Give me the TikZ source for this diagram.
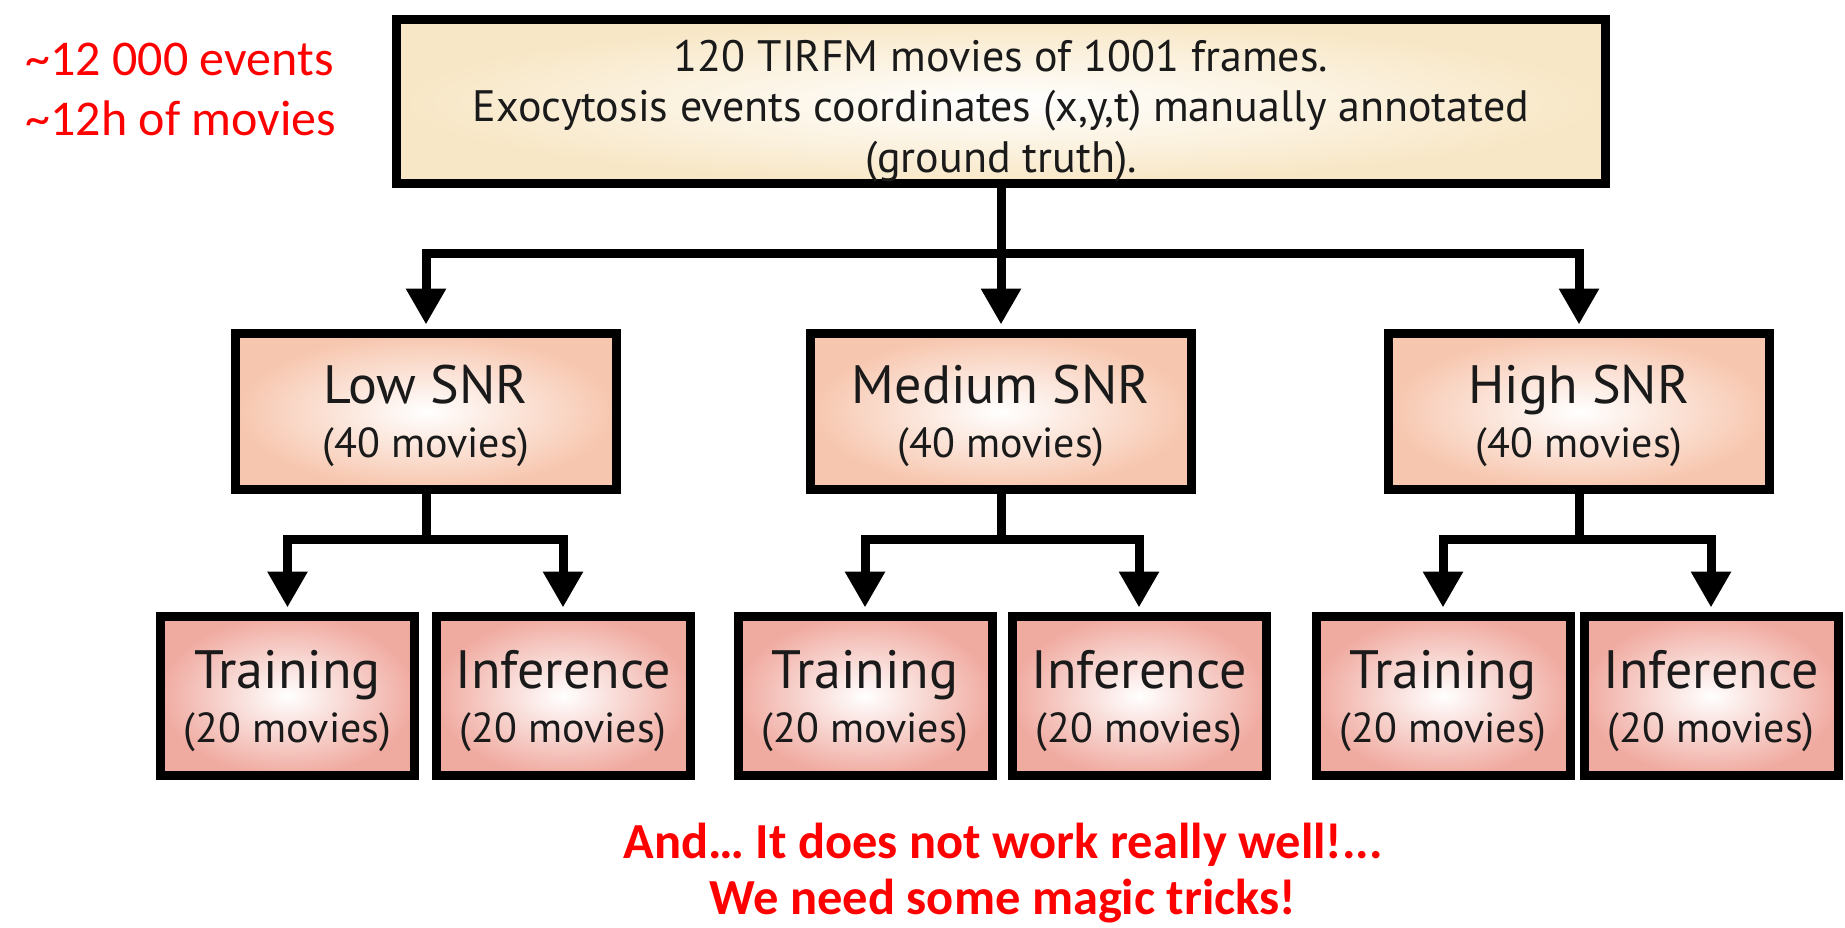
\documentclass[tikz,border=0pt]{standalone}
\usepackage{fontspec}
\setmainfont{Carlito}
\newfontfamily\boxfont{PT Sans}
\usetikzlibrary{arrows.meta}

\definecolor{topfill}{HTML}{F8E7C6}
\definecolor{snrfill}{HTML}{F7C6AE}
\definecolor{setfill}{HTML}{F0ABA1}
\definecolor{ink}{HTML}{1A1A1A}

\newcommand{\boxlines}[2]{{\fontsize{54}{54}\selectfont\rule{0pt}{48pt}#1}\\#2}

\begin{document}
\begin{tikzpicture}[x=1pt, y=-1pt,
    box/.style={draw=black, line width=9pt, shading=radial, inner color=white, inner sep=0pt, align=center, text=ink, font=\boxfont\fontsize{42}{54}\selectfont},
    topbox/.style={box, outer color=topfill, minimum width=1209pt, minimum height=164pt, font=\boxfont\fontsize{44}{50.5}\selectfont},
    snrbox/.style={box, outer color=snrfill, minimum width=381pt, minimum height=156pt},
    setbox/.style={box, outer color=setfill, minimum width=254pt, minimum height=159pt},
    link/.style={line width=9pt},
    arrow/.style={link, -{Triangle[width=38pt, length=36pt]}, shorten >=4.5pt},
    note/.style={text=red, font=\fontsize{50}{60}\selectfont}]
    \useasboundingbox (0,0) rectangle (1845,927);

    \node[topbox] (data) at (1001,101.5) {\rule{0pt}{50pt}120 TIRFM movies of 1001 frames.\\ Exocytosis events coordinates (x,y,t) manually annotated\\ (ground truth).};

    \node[snrbox] (low) at (426,411.5) {\boxlines{Low SNR}{(40 movies)}};
    \node[snrbox] (med) at (1001,411.5) {\boxlines{Medium SNR}{(40 movies)}};
    \node[snrbox] (high) at (1579,411.5) {\boxlines{High SNR}{(40 movies)}};

    \node[setbox] (lowtrain) at (287.5,696) {\boxlines{Training}{(20 movies)}};
    \node[setbox] (lowinf) at (563,696) {\boxlines{Inference}{(20 movies)}};
    \node[setbox] (medtrain) at (865,696) {\boxlines{Training}{(20 movies)}};
    \node[setbox] (medinf) at (1139,696) {\boxlines{Inference}{(20 movies)}};
    \node[setbox] (hightrain) at (1443,696) {\boxlines{Training}{(20 movies)}};
    \node[setbox] (highinf) at (1711,696) {\boxlines{Inference}{(20 movies)}};

    \coordinate (split) at (1001,253);
    \coordinate (lowsplit) at (426,539);
    \coordinate (medsplit) at (1001,539);
    \coordinate (highsplit) at (1579,539);

    \draw[link] (data.south) -- (split);
    \draw[arrow] (split) -| (low.north);
    \draw[arrow] (split) -- (med.north);
    \draw[arrow] (split) -| (high.north);

    \draw[link] (low.south) -- (lowsplit);
    \draw[arrow] (lowsplit) -| (lowtrain.north);
    \draw[arrow] (lowsplit) -| (lowinf.north);
    \draw[link] (med.south) -- (medsplit);
    \draw[arrow] (medsplit) -| (medtrain.north);
    \draw[arrow] (medsplit) -| (medinf.north);
    \draw[link] (high.south) -- (highsplit);
    \draw[arrow] (highsplit) -| (hightrain.north);
    \draw[arrow] (highsplit) -| (highinf.north);

    \node[note, anchor=west] (events) at (22,59) {\textasciitilde 12 000 events};
    \node[note, anchor=west] (hours) at (22,118) {\textasciitilde 12h of movies};

    \node[note, font=\fontsize{50.5}{56}\selectfont\bfseries] (verdict) at (1003,845) {And… It does not work really well!...};
    \node[note, font=\fontsize{50.5}{56}\selectfont\bfseries] (tricks) at (1003,901) {We need some magic tricks!};
\end{tikzpicture}
\end{document}
